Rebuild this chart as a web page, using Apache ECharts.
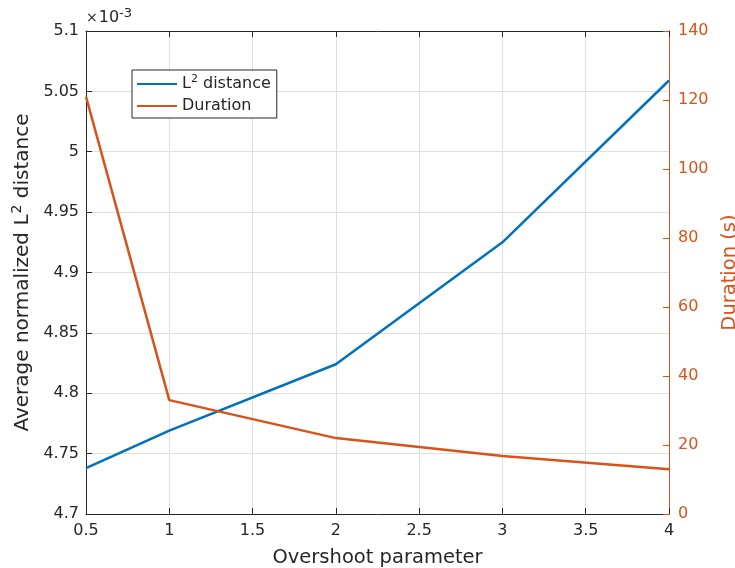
<!DOCTYPE html>
<html>
<head>
<meta charset="utf-8">
<script src="https://cdn.jsdelivr.net/npm/echarts@6/dist/echarts.min.js"></script>
<style>
  html, body { margin: 0; padding: 0; background: #fff; }
  #chart { width: 735px; height: 568px; }
</style>
</head>
<body>
<div id="chart"></div>
<script>
// Overshoot parameter values on the x axis
const overshoot = [0.5, 1, 2, 3, 4];
// Average normalized L2 distance, in units of 1e-3
const l2Distance = [4.738, 4.769, 4.824, 4.925, 5.059];
// Run duration in seconds
const duration = [121, 33, 22, 16.8, 13];

const FONT = 'DejaVu Sans';
const DARK = '#262626';
const BLUE = '#0072BD';
const ORANGE = '#D95319';
const TICK = 16;
const NAME = 19.5;

const chart = echarts.init(document.getElementById('chart'));

const pairs = (xs, ys) => xs.map((x, i) => [x, ys[i]]);

chart.setOption({
  animation: false,
  backgroundColor: '#ffffff',
  textStyle: { fontFamily: FONT },
  grid: { left: 86, right: 66, top: 31, bottom: 54, outerBoundsMode: 'none', containLabel: false },
  graphic: [{
    type: 'text',
    left: 86,
    top: 7,
    style: {
      text: '{x|×}{a|10}{s|-3}',
      rich: {
        x: { fontFamily: FONT, fontSize: 14, fill: DARK, padding: [0, 1, 0, 0] },
        a: { fontFamily: FONT, fontSize: 16, fill: DARK },
        s: { fontFamily: FONT, fontSize: 13, fill: DARK, padding: [0, 0, 9, 0] }
      }
    }
  }],
  legend: {
    orient: 'vertical',
    left: 132,
    top: 70,
    padding: [4, 6, 4, 5],
    itemGap: 6,
    itemWidth: 40,
    itemHeight: 2,
    borderColor: DARK,
    borderWidth: 1,
    backgroundColor: '#ffffff',
    borderRadius: 0,
    data: [
      { name: 'L2', icon: 'rect' },
      { name: 'Duration', icon: 'rect' }
    ],
    formatter: function (name) {
      return name === 'L2' ? '{a|L}{s|2}{a| distance}' : '{a|Duration}';
    },
    textStyle: {
      padding: [0, 0, 0, 0],
      rich: {
        a: { fontFamily: FONT, fontSize: 16, color: DARK },
        s: { fontFamily: FONT, fontSize: 11, color: DARK, padding: [0, 0, 9, 0] }
      }
    }
  },
  xAxis: [{
    type: 'value',
    min: 0.5,
    max: 4,
    interval: 0.5,
    name: 'Overshoot parameter',
    nameLocation: 'middle',
    nameGap: 34,
    nameTextStyle: { fontFamily: FONT, fontSize: NAME, color: DARK },
    axisLine: { lineStyle: { color: DARK, width: 1 } },
    axisTick: { inside: true, length: 6, lineStyle: { color: DARK } },
    axisLabel: { fontFamily: FONT, fontSize: TICK, color: DARK, margin: 9 },
    splitLine: { show: true, lineStyle: { color: '#dfdfdf', width: 1 } }
  }, {
    type: 'value',
    position: 'top',
    min: 0.5,
    max: 4,
    interval: 0.5,
    axisLine: { show: true, lineStyle: { color: DARK, width: 1 } },
    axisTick: { show: true, inside: true, length: 6, lineStyle: { color: DARK } },
    axisLabel: { show: false },
    splitLine: { show: false }
  }],
  yAxis: [{
    type: 'value',
    position: 'left',
    min: 4.7,
    max: 5.1,
    interval: 0.05,
    name: '{a|Average normalized L}{s|2}{a| distance}',
    nameLocation: 'middle',
    nameRotate: 90,
    nameGap: 43,
    nameTextStyle: {
      rich: {
        a: { fontFamily: FONT, fontSize: 20, color: DARK },
        s: { fontFamily: FONT, fontSize: 14, color: DARK, padding: [0, 0, 11, 1] }
      }
    },
    axisLine: { show: true, lineStyle: { color: DARK, width: 1 } },
    axisTick: { show: true, inside: true, length: 6, lineStyle: { color: DARK } },
    axisLabel: { fontFamily: FONT, fontSize: TICK, color: DARK, margin: 7 },
    splitLine: { show: true, lineStyle: { color: '#dfdfdf', width: 1 } }
  }, {
    type: 'value',
    position: 'right',
    min: 0,
    max: 140,
    interval: 20,
    name: 'Duration (s)',
    nameLocation: 'middle',
    nameRotate: 90,
    nameGap: 50,
    nameTextStyle: { fontFamily: FONT, fontSize: NAME, color: ORANGE },
    axisLine: { show: true, lineStyle: { color: ORANGE, width: 1 } },
    axisTick: { show: true, inside: true, length: 6, lineStyle: { color: ORANGE } },
    axisLabel: { fontFamily: FONT, fontSize: TICK, color: ORANGE, margin: 9 },
    splitLine: { show: false }
  }],
  series: [{
    name: 'L2',
    type: 'line',
    xAxisIndex: 0,
    yAxisIndex: 0,
    data: pairs(overshoot, l2Distance),
    showSymbol: false,
    color: BLUE,
    lineStyle: { width: 2.5, color: BLUE }
  }, {
    name: 'Duration',
    type: 'line',
    xAxisIndex: 0,
    yAxisIndex: 1,
    data: pairs(overshoot, duration),
    showSymbol: false,
    color: ORANGE,
    lineStyle: { width: 2.5, color: ORANGE }
  }]
});
</script>
</body>
</html>
